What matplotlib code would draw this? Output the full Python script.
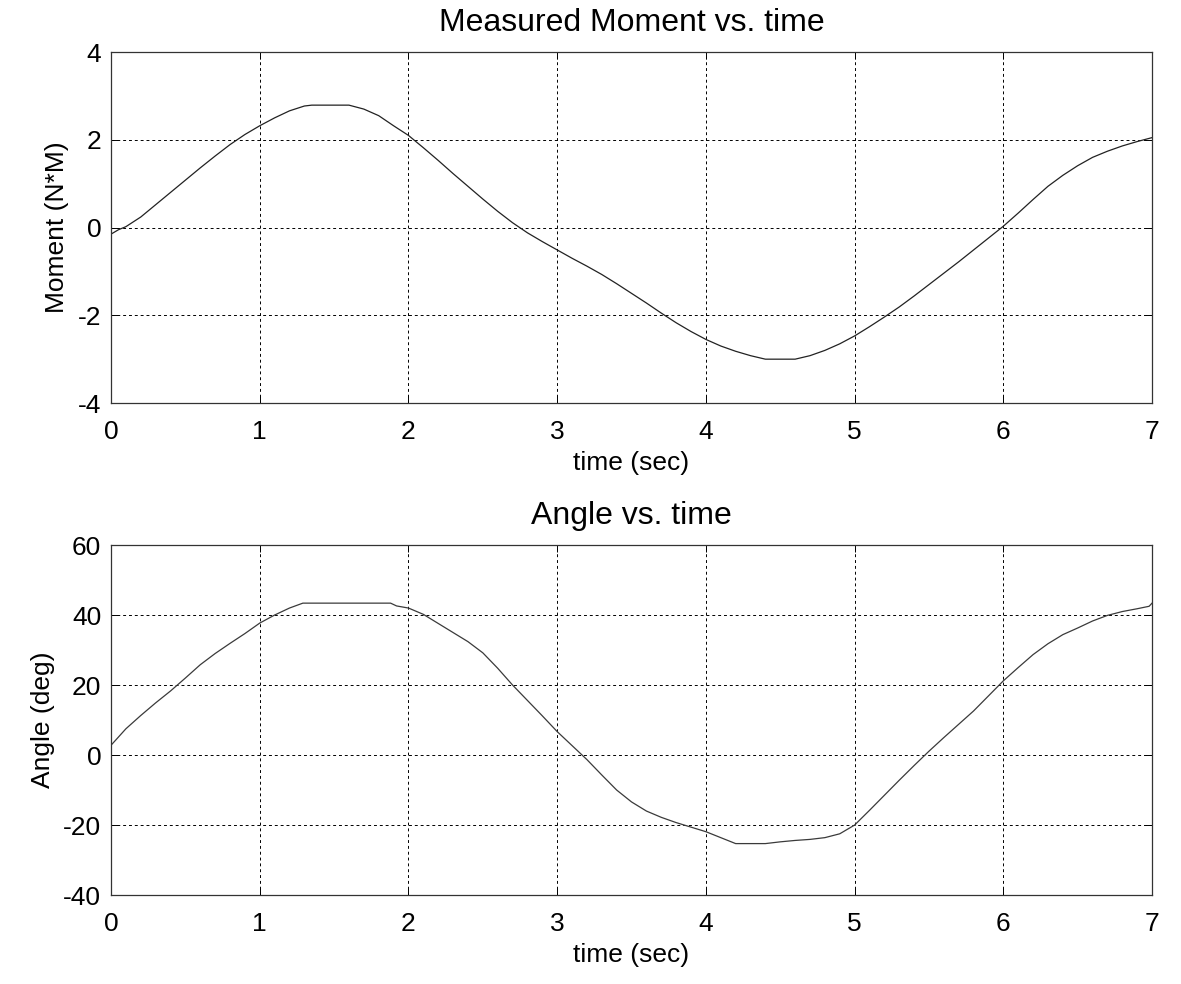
import numpy as np
import matplotlib.pyplot as plt

### moment and angle logs, read every so often along the run
t_moment = [0, 0.05, 0.1, 0.2, 0.3, 0.4, 0.5, 0.6, 0.7, 0.8, 0.9, 1.0, 1.1, 1.2, 1.3, 1.35,
            1.6, 1.7, 1.8, 1.9, 2.0, 2.1, 2.2, 2.3, 2.4, 2.5, 2.6, 2.7, 2.8, 2.9, 3.0,
            3.1, 3.2, 3.3, 3.4, 3.5, 3.6, 3.7, 3.8, 3.9, 4.0, 4.1, 4.2, 4.3, 4.4,
            4.6, 4.7, 4.8, 4.9, 5.0, 5.1, 5.2, 5.3, 5.4, 5.5, 5.6, 5.7, 5.8, 5.9, 6.0,
            6.1, 6.2, 6.3, 6.4, 6.5, 6.6, 6.7, 6.8, 6.9, 7.0]
moment = [-0.15, -0.05, 0.02, 0.24, 0.52, 0.80, 1.08, 1.36, 1.63, 1.89, 2.12, 2.32, 2.50, 2.66, 2.77, 2.79,
          2.79, 2.70, 2.55, 2.32, 2.10, 1.82, 1.53, 1.23, 0.94, 0.65, 0.37, 0.11, -0.12, -0.32, -0.51,
          -0.70, -0.88, -1.07, -1.28, -1.50, -1.72, -1.95, -2.17, -2.37, -2.55, -2.70, -2.82, -2.92, -3.00,
          -3.00, -2.92, -2.80, -2.65, -2.47, -2.26, -2.04, -1.81, -1.56, -1.30, -1.04, -0.78, -0.51, -0.24, 0.03,
          0.33, 0.64, 0.94, 1.19, 1.41, 1.60, 1.74, 1.86, 1.96, 2.05]

t_angle = [0, 0.03, 0.1, 0.2, 0.3, 0.4, 0.5, 0.6, 0.7, 0.8, 0.9, 1.0, 1.1, 1.2, 1.29,
           1.88, 1.92, 2.0, 2.1, 2.2, 2.3, 2.4, 2.5, 2.6, 2.7, 2.8, 2.9, 3.0,
           3.1, 3.2, 3.3, 3.4, 3.5, 3.6, 3.7, 3.8, 3.9, 4.0, 4.1, 4.2,
           4.4, 4.5, 4.6, 4.7, 4.8, 4.9, 5.0, 5.1, 5.2, 5.3, 5.4, 5.5, 5.6, 5.7, 5.8, 5.9, 6.0,
           6.1, 6.2, 6.3, 6.4, 6.5, 6.6, 6.7, 6.8, 6.9, 6.98, 7.0]
angle = [2.8, 4.2, 7.5, 11.3, 14.9, 18.3, 22.0, 25.8, 29.0, 31.9, 34.7, 37.7, 40.0, 42.0, 43.4,
         43.4, 42.6, 42.0, 40.2, 37.6, 35.0, 32.4, 29.2, 24.8, 20.0, 15.6, 11.2, 6.7,
         2.7, -1.3, -5.7, -10.0, -13.4, -16.0, -17.8, -19.3, -20.6, -21.9, -23.6, -25.3,
         -25.3, -24.8, -24.4, -24.1, -23.6, -22.5, -20.0, -15.8, -11.5, -7.2, -3.0, 1.1, 5.0, 8.8, 12.6, 16.9, 21.2,
         25.0, 28.7, 31.8, 34.4, 36.3, 38.3, 39.9, 41.0, 41.8, 42.5, 43.4]

xticks = [0, 1, 2, 3, 4, 5, 6, 7]
yticks_m = [-4, -2, 0, 2, 4]
yticks_a = [-40, -20, 0, 20, 40, 60]

plt.rcParams['font.family'] = ['Liberation Sans', 'DejaVu Sans']
plt.rcParams['font.size'] = 19
plt.rcParams['axes.unicode_minus'] = False

fig = plt.figure(figsize=(11.81, 9.84), dpi=100)
ax1 = fig.add_axes([0.094, 0.5904, 0.8815, 0.3567])
ax2 = fig.add_axes([0.094, 0.0904, 0.8815, 0.3557])

def style(ax, yticks):
    ax.set_xlim(0, 7)
    ax.set_ylim(yticks[0], yticks[-1])
    ax.set_xticks(xticks)
    ax.set_yticks(yticks)
    ax.grid(True, color='black', linestyle=(0, (3, 3)), linewidth=0.7)
    ax.tick_params(direction='in', length=5, width=0.7, top=True, right=True)
    ax.tick_params(axis='x', pad=12)
    ax.tick_params(axis='y', pad=7)
    for s in ax.spines.values():
        s.set_linewidth(0.9)
        s.set_color('#333333')

ax1.plot(t_moment, moment, color='#222222', linewidth=0.9)
style(ax1, yticks_m)
ax1.set_title('Measured Moment vs. time', fontsize=23, pad=15)
ax1.set_xlabel('time (sec)', labelpad=5)
ax1.set_ylabel('Moment (N*M)', labelpad=6)

ax2.plot(t_angle, angle, color='#3a3a3a', linewidth=0.9)
style(ax2, yticks_a)
ax2.set_title('Angle vs. time', fontsize=23, pad=15)
ax2.set_xlabel('time (sec)', labelpad=5)
ax2.set_ylabel('Angle (deg)', labelpad=6)

plt.savefig('out.png', dpi=100)
